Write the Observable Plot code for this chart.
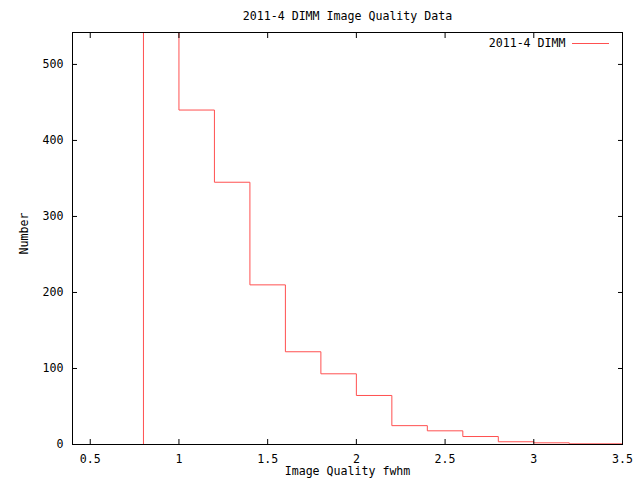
<!DOCTYPE html>
<html>
<head>
<meta charset="utf-8">
<script src="https://cdn.jsdelivr.net/npm/d3@7"></script>
<script src="https://cdn.jsdelivr.net/npm/@observablehq/plot@0.6"></script>
<style>
  html, body { margin: 0; padding: 0; background: white; }
  #chart svg { display: block; }
</style>
</head>
<body>
<div id="chart"></div>
<script>
// ---- data ----
const title = "2011-4 DIMM Image Quality Data";
const seriesName = "2011-4 DIMM";
const xLabel = "Image Quality fwhm";
const yLabel = "Number";
const binStart = [0.8, 1.0, 1.2, 1.4, 1.6, 1.8, 2.0, 2.2, 2.4, 2.6, 2.8, 3.0, 3.2];
const counts   = [700, 440, 345, 210, 122, 93, 64.5, 24.8, 18, 10.5, 3.6, 2.2, 0.9];
const xEnd = 3.5;
const xTicks = [0.5, 1, 1.5, 2, 2.5, 3, 3.5];
const yTicks = [0, 100, 200, 300, 400, 500];
const xDomain = [0.4, 3.5];
const yDomain = [0, 542];

// ---- build step points from the bins ----
const pts = [{x: binStart[0], y: 0}]
  .concat(binStart.map((x, i) => ({x, y: counts[i]})))
  .concat([{x: xEnd, y: counts[counts.length - 1]}]);

const red = "#ff5050";
const W = 640, H = 480;
const mL = 72, mR = 18, mT = 32, mB = 36;

const chart = Plot.plot({
  width: W, height: H,
  marginLeft: mL, marginRight: mR, marginTop: mT, marginBottom: mB,
  style: {fontFamily: "'DejaVu Sans Mono', monospace", fontSize: "11.6px", background: "white", color: "black"},
  x: {domain: xDomain},
  y: {domain: yDomain},
  marks: [
    Plot.line(pts, {x: "x", y: "y", curve: "step-after", stroke: red, strokeWidth: 1, clip: true}),
    Plot.frame({stroke: "black"}),
    Plot.axisX({anchor: "bottom", ticks: xTicks, tickFormat: d => String(d), tickSize: -5, tickPadding: 15, label: null}),
    Plot.axisX({anchor: "top", ticks: xTicks, tickFormat: () => "", tickSize: -5, label: null}),
    Plot.axisY({anchor: "left", ticks: yTicks, tickFormat: d => String(d), tickSize: -5, tickPadding: 14, label: null}),
    Plot.axisY({anchor: "right", ticks: yTicks, tickFormat: () => "", tickSize: -5, label: null}),
    Plot.text([title], {frameAnchor: "top", dy: -16, lineAnchor: "middle"}),
    Plot.text([xLabel], {frameAnchor: "bottom", dy: 27, lineAnchor: "middle"}),
    Plot.text([yLabel], {frameAnchor: "left", dx: -48, dy: -5, rotate: -90, textAnchor: "middle", lineAnchor: "middle"}),
    Plot.text([seriesName], {frameAnchor: "top-right", dx: -57, dy: 11, textAnchor: "end", lineAnchor: "middle"})
  ]
});

// legend swatch line next to the series name
d3.select(chart).append("line")
  .attr("x1", W - mR - 50).attr("x2", W - mR - 13)
  .attr("y1", mT + 11.5).attr("y2", mT + 11.5)
  .attr("stroke", red).attr("stroke-width", 1);

document.getElementById("chart").append(chart);
</script>
</body>
</html>
